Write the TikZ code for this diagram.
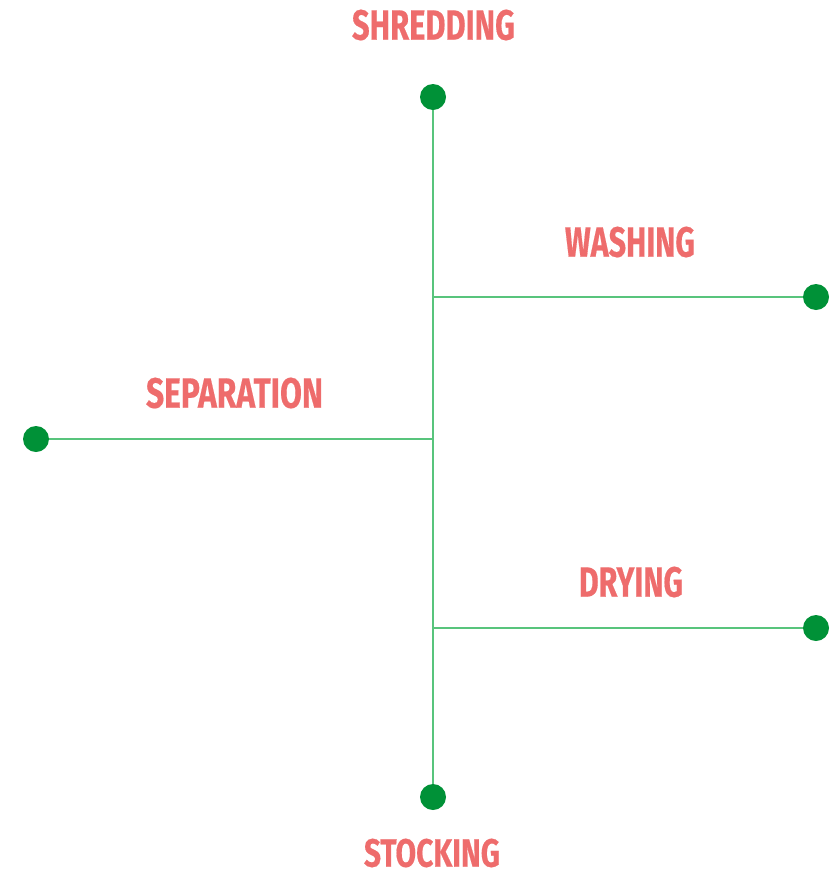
\documentclass[tikz,border=0pt]{standalone}
\usepackage{fontspec}
\usepackage{graphicx}
\newfontfamily\lblfont[FakeBold=0.5]{Fira Sans}
\definecolor{lblred}{RGB}{238,108,108}
\definecolor{dotgreen}{RGB}{0,145,55}
\definecolor{linegreen}{RGB}{88,196,124}
\newcommand{\lbltext}[3]{\resizebox{#1pt}{#2pt}{\lblfont\bfseries #3}}
\tikzset{
  dot/.style={circle,fill=dotgreen,inner sep=0pt,minimum size=26pt},
  link/.style={draw=linegreen,line width=1.6pt},
  lbl/.style={inner sep=0pt,text=lblred}
}
\begin{document}
\begin{tikzpicture}[x=1pt,y=-1pt]
\useasboundingbox (0,0) rectangle (836,876);
\coordinate (j1) at (433,297);
\coordinate (j2) at (433,439);
\coordinate (j3) at (433,628);
\node[dot] (shred) at (433,97) {};
\node[dot] (stock) at (433,797) {};
\node[dot] (wash) at (816,297) {};
\node[dot] (dry) at (816,628) {};
\node[dot] (sep) at (36,439) {};
\path[link] (shred) -- (stock);
\path[link] (j1) -- (wash);
\path[link] (j2) -- (sep);
\path[link] (j3) -- (dry);
\node[lbl] (tshred) at (433.5,25) {\lbltext{163}{30}{SHREDDING}};
\node[lbl] (twash) at (630,242) {\lbltext{130}{30}{WASHING}};
\node[lbl] (tsep) at (234.5,393) {\lbltext{177}{30}{SEPARATION}};
\node[lbl] (tdry) at (631,582) {\lbltext{104}{30}{DRYING}};
\node[lbl] (tstock) at (432,853) {\lbltext{136}{28}{STOCKING}};
\end{tikzpicture}
\end{document}
